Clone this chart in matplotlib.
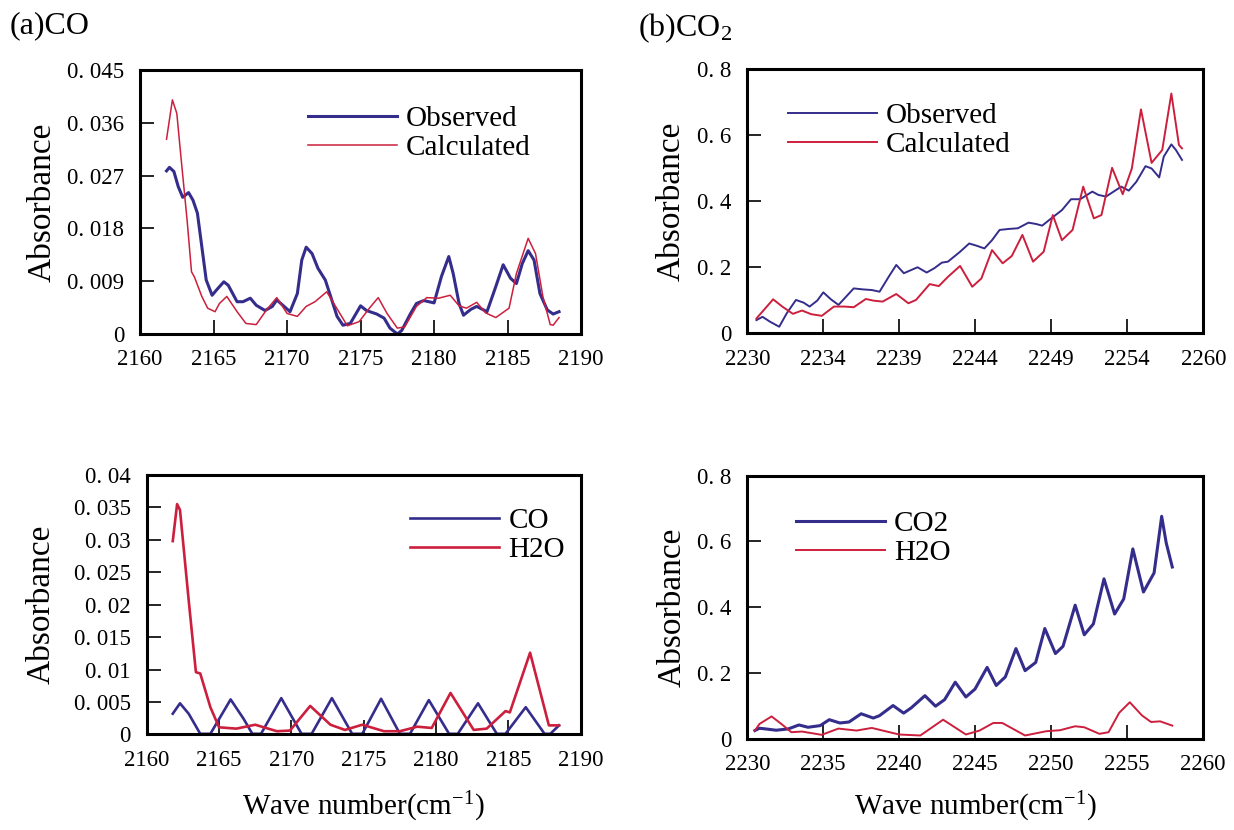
import matplotlib
matplotlib.use('Agg')
import matplotlib.pyplot as plt
import numpy as np

plt.rcParams['font.family'] = ['Liberation Serif', 'DejaVu Serif']
plt.rcParams['mathtext.default'] = 'regular'

blue = '#342d8c'
red = '#cc1f3d'

# (a) CO, observed vs calculated
co_obs_x = [2161.8, 2162.0, 2162.3, 2162.6, 2162.9, 2163.3, 2163.6, 2163.9, 2164.2, 2164.5,
            2164.9, 2165.2, 2165.7, 2166.0, 2166.6, 2167.0, 2167.5, 2167.9, 2168.5, 2169.0,
            2169.3, 2169.8, 2170.2, 2170.7, 2171.0, 2171.3, 2171.7, 2172.1, 2172.6, 2172.9,
            2173.4, 2173.8, 2174.3, 2175.0, 2175.4, 2176.1, 2176.6, 2177.0, 2177.5, 2177.8,
            2178.4, 2178.8, 2179.3, 2180.0, 2180.5, 2181.0, 2181.3, 2181.7, 2182.0, 2182.5,
            2182.9, 2183.6, 2184.2, 2184.7, 2185.2, 2185.6, 2186.0, 2186.4, 2186.8, 2187.2,
            2187.7, 2188.1, 2188.5]
co_obs_y = [0.0278, 0.0284, 0.0277, 0.0251, 0.0233, 0.0241, 0.0228, 0.0206, 0.0149, 0.0092,
            0.0066, 0.0075, 0.0089, 0.0083, 0.0055, 0.0055, 0.0061, 0.0049, 0.0040, 0.0047,
            0.0058, 0.0047, 0.0038, 0.0069, 0.0126, 0.0148, 0.0137, 0.0112, 0.0092, 0.0069,
            0.0030, 0.0015, 0.0018, 0.0048, 0.0040, 0.0034, 0.0027, 0.0010, 0.0000, 0.0006,
            0.0035, 0.0052, 0.0057, 0.0053, 0.0098, 0.0132, 0.0103, 0.0052, 0.0032, 0.0042,
            0.0047, 0.0038, 0.0081, 0.0118, 0.0095, 0.0086, 0.0120, 0.0142, 0.0126, 0.0069,
            0.0041, 0.0034, 0.0038]
co_calc_x = [2161.8, 2162.2, 2162.5, 2162.8, 2163.2, 2163.5, 2163.7, 2164.2, 2164.6, 2165.1,
             2165.4, 2165.9, 2166.6, 2167.2, 2167.9, 2168.6, 2169.3, 2170.0, 2170.7, 2171.3,
             2171.9, 2172.7, 2173.3, 2174.1, 2174.9, 2175.6, 2176.2, 2176.8, 2177.5, 2178.0,
             2178.8, 2179.5, 2180.3, 2181.1, 2181.7, 2182.2, 2182.9, 2183.5, 2184.2, 2185.1,
             2185.6, 2186.4, 2186.9, 2187.4, 2187.9, 2188.1, 2188.5]
co_calc_y = [0.0332, 0.0399, 0.0376, 0.0297, 0.0194, 0.0106, 0.0097, 0.0064, 0.0044, 0.0038,
             0.0052, 0.0064, 0.0038, 0.0018, 0.0016, 0.0041, 0.0062, 0.0035, 0.0030, 0.0047,
             0.0055, 0.0072, 0.0047, 0.0014, 0.0021, 0.0044, 0.0062, 0.0035, 0.0010, 0.0012,
             0.0047, 0.0062, 0.0061, 0.0066, 0.0048, 0.0044, 0.0054, 0.0036, 0.0028, 0.0044,
             0.0103, 0.0163, 0.0137, 0.0064, 0.0016, 0.0015, 0.0028]

# (b) CO2, observed vs calculated
co2_obs_x = [2230.6, 2231.0, 2231.5, 2232.1, 2232.6, 2233.2, 2233.7, 2234.1, 2234.6, 2235.0,
             2235.5, 2236.0, 2236.5, 2237.0, 2237.6, 2238.2, 2238.7, 2239.3, 2239.8, 2240.3,
             2240.8, 2241.2, 2241.8, 2242.3, 2242.8, 2243.2, 2244.0, 2244.6, 2245.1, 2245.6,
             2246.1, 2246.6, 2247.2, 2247.8, 2248.5, 2249.0, 2249.4, 2250.0, 2250.7, 2251.3,
             2251.9, 2252.7, 2253.1, 2253.6, 2254.1, 2254.6, 2255.1, 2255.6, 2256.2, 2256.6,
             2257.1, 2257.4, 2257.9, 2258.2, 2258.6]
co2_obs_y = [0.040, 0.050, 0.035, 0.020, 0.061, 0.101, 0.093, 0.081, 0.099, 0.124,
             0.103, 0.086, 0.111, 0.136, 0.133, 0.131, 0.126, 0.171, 0.207, 0.182,
             0.192, 0.200, 0.184, 0.197, 0.214, 0.217, 0.247, 0.272, 0.265, 0.257,
             0.282, 0.313, 0.316, 0.318, 0.335, 0.331, 0.326, 0.348, 0.373, 0.406,
             0.406, 0.429, 0.419, 0.414, 0.429, 0.444, 0.432, 0.459, 0.506, 0.499,
             0.472, 0.535, 0.572, 0.555, 0.525]
co2_calc_x = [2230.6, 2231.0, 2231.7, 2232.3, 2233.0, 2233.6, 2234.2, 2234.9, 2235.7, 2236.4,
              2237.0, 2237.8, 2238.3, 2238.9, 2239.8, 2240.6, 2241.1, 2242.0, 2242.6, 2243.2,
              2244.0, 2244.8, 2245.4, 2246.1, 2246.8, 2247.4, 2248.1, 2248.8, 2249.5, 2250.1,
              2250.7, 2251.4, 2252.1, 2252.8, 2253.3, 2254.0, 2254.7, 2255.3, 2255.9, 2256.6,
              2257.3, 2257.9, 2258.4, 2258.6]
co2_calc_y = [0.045, 0.066, 0.103, 0.081, 0.059, 0.069, 0.058, 0.053, 0.081, 0.081,
              0.079, 0.104, 0.099, 0.096, 0.119, 0.091, 0.101, 0.149, 0.143, 0.171,
              0.204, 0.141, 0.166, 0.252, 0.212, 0.234, 0.298, 0.217, 0.247, 0.358,
              0.282, 0.313, 0.444, 0.348, 0.358, 0.501, 0.421, 0.499, 0.678, 0.516,
              0.555, 0.726, 0.570, 0.560]

# (c) CO region components
cc_co_x = [2161.8, 2162.3, 2162.9, 2163.7, 2164.4, 2165.8, 2166.7, 2167.3, 2167.9, 2169.3,
           2170.7, 2171.4, 2172.8, 2174.2, 2174.9, 2176.2, 2177.5, 2178.2, 2179.5, 2180.9,
           2181.5, 2182.9, 2184.2, 2184.8, 2186.2, 2187.5, 2187.9, 2188.5]
cc_co_y = [0.0032, 0.0048, 0.0032, 0.0001, 0.0001, 0.0054, 0.0024, 0.0001, 0.0001, 0.0056,
           0.0001, 0.0001, 0.0056, 0.0001, 0.0001, 0.0055, 0.0001, 0.0001, 0.0053, 0.0001,
           0.0001, 0.0048, 0.0001, 0.0001, 0.0042, 0.0001, 0.0001, 0.0014]
cc_h2o_x = [2161.8, 2162.1, 2162.3, 2162.9, 2163.4, 2163.7, 2164.4, 2165.0, 2166.2, 2167.5,
            2169.0, 2169.9, 2171.3, 2172.7, 2173.7, 2174.9, 2176.4, 2177.5, 2178.7, 2179.7,
            2181.0, 2182.6, 2183.5, 2184.8, 2185.1, 2186.5, 2187.8, 2188.5]
cc_h2o_y = [0.0298, 0.0355, 0.0346, 0.0207, 0.0096, 0.0094, 0.0042, 0.0011, 0.0009, 0.0015,
            0.0005, 0.0006, 0.0044, 0.0015, 0.0007, 0.0015, 0.0005, 0.0005, 0.0012, 0.0010,
            0.0064, 0.0007, 0.0009, 0.0036, 0.0034, 0.0126, 0.0014, 0.0014]

# (d) CO2 region components
cd_co2_x = [2230.5, 2230.8, 2231.2, 2231.9, 2232.7, 2233.4, 2234.0, 2234.8, 2235.4, 2236.1,
            2236.7, 2237.5, 2238.3, 2238.7, 2239.6, 2240.3, 2240.8, 2241.7, 2242.4, 2243.0,
            2243.7, 2244.4, 2245.0, 2245.8, 2246.4, 2247.0, 2247.7, 2248.3, 2249.0, 2249.6,
            2250.3, 2250.8, 2251.6, 2252.2, 2252.8, 2253.5, 2254.2, 2254.8, 2255.4, 2256.1,
            2256.8, 2257.3, 2257.6, 2258.0]
cd_co2_y = [0.025, 0.032, 0.030, 0.026, 0.030, 0.042, 0.035, 0.040, 0.058, 0.048,
            0.051, 0.076, 0.063, 0.070, 0.101, 0.078, 0.094, 0.131, 0.099, 0.119,
            0.172, 0.127, 0.151, 0.217, 0.162, 0.188, 0.274, 0.207, 0.232, 0.335,
            0.259, 0.281, 0.406, 0.316, 0.349, 0.486, 0.379, 0.425, 0.577, 0.446,
            0.504, 0.676, 0.595, 0.522]
cd_h2o_x = [2230.5, 2230.8, 2231.6, 2232.3, 2232.9, 2233.6, 2234.9, 2236.0, 2237.2, 2238.2,
            2240.0, 2241.4, 2242.9, 2244.4, 2245.3, 2246.2, 2246.8, 2248.3, 2249.7, 2250.6,
            2251.6, 2252.2, 2253.2, 2253.8, 2254.5, 2255.2, 2256.0, 2256.6, 2257.2, 2258.0]
cd_h2o_y = [0.025, 0.045, 0.068, 0.043, 0.020, 0.022, 0.012, 0.031, 0.025, 0.033,
            0.013, 0.010, 0.058, 0.013, 0.025, 0.048, 0.048, 0.010, 0.023, 0.026,
            0.038, 0.035, 0.015, 0.020, 0.079, 0.111, 0.071, 0.051, 0.053, 0.040]

co_xticks = [2160, 2165, 2170, 2175, 2180, 2185, 2190]
co2_xticks = [2230, 2235, 2240, 2245, 2250, 2255, 2260]
b_xlabels = ['2230', '2234', '2239', '2244', '2249', '2254', '2260']
d_xlabels = ['2230', '2235', '2240', '2245', '2250', '2255', '2260']
a_yticks = [0, 0.009, 0.018, 0.027, 0.036, 0.045]
a_ylabels = ['0', '0. 009', '0. 018', '0. 027', '0. 036', '0. 045']
c_yticks = [0, 0.005, 0.01, 0.015, 0.02, 0.025, 0.03, 0.035, 0.04]
c_ylabels = ['0', '0. 005', '0. 01', '0. 015', '0. 02', '0. 025', '0. 03', '0. 035', '0. 04']
co2_yticks = [0, 0.2, 0.4, 0.6, 0.8]
co2_ylabels = ['0', '0. 2', '0. 4', '0. 6', '0. 8']

fig = plt.figure(figsize=(12.34, 8.30), dpi=100)
ax_a = fig.add_axes([0.1135, 0.5976, 0.3574, 0.3181])
ax_b = fig.add_axes([0.6056, 0.5984, 0.3695, 0.3184])
ax_c = fig.add_axes([0.1189, 0.1151, 0.3517, 0.3127])
ax_d = fig.add_axes([0.6056, 0.1099, 0.3690, 0.3172])


def style(ax, xlim, xt, xl, ylim, yt, yl, lab_x):
    ax.set_xlim(xlim)
    ax.set_ylim(ylim)
    ax.set_xticks(xt)
    ax.set_xticklabels(xl)
    ax.set_yticks(yt)
    ax.set_yticklabels(yl)
    for s in ax.spines.values():
        s.set_linewidth(2.2)
    ax.tick_params(direction='in', length=10, width=1.2, labelsize=16.5,
                   top=False, right=False)
    ax.tick_params(axis='y', pad=11.5)
    ax.tick_params(axis='x', pad=11)
    ax.set_ylabel('Absorbance', fontsize=24)
    ax.yaxis.set_label_coords(lab_x, 0.5)


ax_a.plot(co_obs_x, co_obs_y, color=blue, lw=2.2, label='Observed')
ax_a.plot(co_calc_x, co_calc_y, color=red, lw=1.1, label='Calculated')
style(ax_a, (2160, 2190), co_xticks, [str(t) for t in co_xticks], (0, 0.045),
      a_yticks, a_ylabels, -0.188)

ax_b.plot(co2_obs_x, co2_obs_y, color=blue, lw=1.4, label='Observed')
ax_b.plot(co2_calc_x, co2_calc_y, color=red, lw=1.4, label='Calculated')
style(ax_b, (2230, 2260), co2_xticks, b_xlabels, (0, 0.8),
      co2_yticks, co2_ylabels, -0.132)

ax_c.plot(cc_co_x, cc_co_y, color=blue, lw=1.9, label='CO')
ax_c.plot(cc_h2o_x, cc_h2o_y, color=red, lw=1.9, label='H2O')
style(ax_c, (2160, 2190), co_xticks, [str(t) for t in co_xticks], (0, 0.04),
      c_yticks, c_ylabels, -0.207)

ax_d.plot(cd_co2_x, cd_co2_y, color=blue, lw=2.2, label='CO2')
ax_d.plot(cd_h2o_x, cd_h2o_y, color=red, lw=1.4, label='H2O')
style(ax_d, (2230, 2260), co2_xticks, d_xlabels, (0, 0.8),
      co2_yticks, co2_ylabels, -0.132)

leg_pos = {ax_a: (0.380, 0.865), ax_b: (0.0886, 0.874),
           ax_c: (0.607, 0.874), ax_d: (0.106, 0.867)}
for ax, pos in leg_pos.items():
    ax.legend(loc='upper left', bbox_to_anchor=pos, frameon=False, borderpad=0,
              handlelength=3.05, handletextpad=0.32, labelspacing=0.1, fontsize=21,
              borderaxespad=0)

ax_c.set_xlabel('Wave number(cm$^{-1}$)', fontsize=21, labelpad=14)
ax_d.set_xlabel('Wave number(cm$^{-1}$)', fontsize=21, labelpad=11)

fig.text(10 / 1234, 1 - 11 / 830, '(a)CO', family='Liberation Serif',
         fontsize=23, va='top', ha='left')
fig.text(638 / 1234, 1 - 11 / 830, '(b)CO$_2$', family='Liberation Serif',
         fontsize=23, va='top', ha='left')

fig.savefig('out.png', dpi=100)
